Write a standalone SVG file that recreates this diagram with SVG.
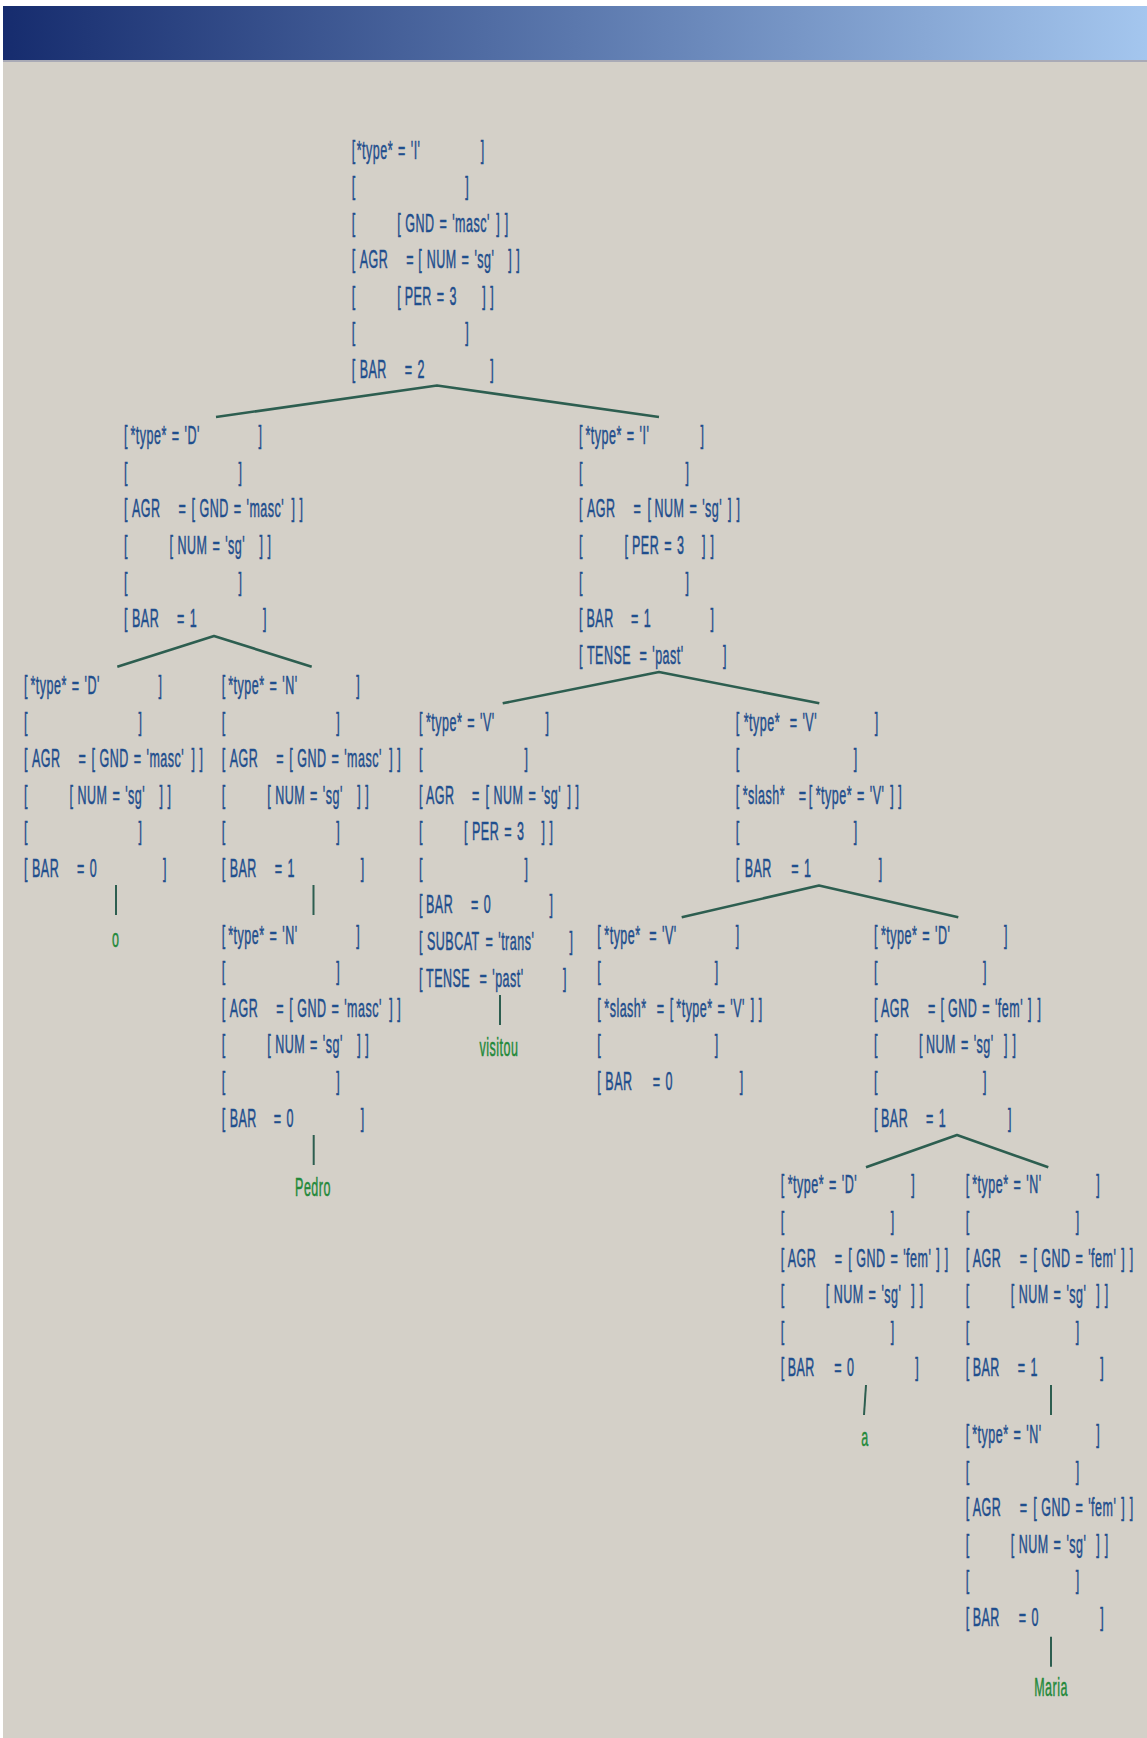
<svg xmlns="http://www.w3.org/2000/svg" width="1147" height="1738" viewBox="0 0 1147 1738">
  <style>
    .node text { font-family: "Liberation Sans", Arial, sans-serif; font-size: 25px; fill: #1f4e8d; stroke: #1f4e8d; stroke-width: 0.5px; letter-spacing: 1px; word-spacing: 2px; }
    .leaf text { font-family: "Liberation Sans", Arial, sans-serif; font-size: 25px; fill: #23893a; stroke: #23893a; stroke-width: 0.5px; letter-spacing: 1px; text-anchor: middle; }
    .edge { fill: none; stroke: #2d5e50; stroke-width: 2.6; stroke-linejoin: round; }
    .stem { fill: none; stroke: #2d5e50; stroke-width: 2; }
  </style>
  <defs>
    <linearGradient id="band" x1="0" y1="0" x2="1" y2="0">
      <stop offset="0" stop-color="#162c6e"/>
      <stop offset="0.5" stop-color="#5b78ad"/>
      <stop offset="1" stop-color="#a4c6ee"/>
    </linearGradient>
  </defs>

  <!-- page -->
  <rect x="0" y="0" width="1147" height="1738" fill="#ffffff"/>
  <rect x="3" y="6" width="1144" height="1732" fill="#d4d0c8"/>
  <rect x="3" y="6" width="1144" height="54" fill="url(#band)"/>
  <rect x="3" y="60" width="1144" height="2" fill="#a9aab6"/>

  <!-- tree edges -->
  <g id="connectors">
    <path class="edge" d="M216 417 L437 385.5 L659 417"/>
    <path class="edge" d="M117.3 666.7 L214 636 L311.7 666.7"/>
    <path class="edge" d="M502.7 703.3 L659 672 L819.3 703.3"/>
    <path class="edge" d="M681.7 917.3 L819 885.5 L958.3 917.3"/>
    <path class="edge" d="M866 1167.3 L957 1135 L1048.3 1167.3"/>
    <path class="stem" d="M116 885 V915"/>
    <path class="stem" d="M313.5 885 V915"/>
    <path class="stem" d="M313.7 1135 V1165"/>
    <path class="stem" d="M500 995 V1025"/>
    <path class="stem" d="M866 1385 L864 1415"/>
    <path class="stem" d="M1051 1385 V1415"/>
    <path class="stem" d="M1051 1636.7 V1666.7"/>
  </g>

  <!-- I, BAR 2 -->
  <g id="node-root" class="node" transform="translate(351.7 158.5) scale(0.5 1)">
    <text y="0"><tspan x="0">[</tspan><tspan x="10">*type* = 'I'</tspan><tspan x="258">]</tspan></text>
    <text y="36.6"><tspan x="0">[</tspan><tspan x="227">]</tspan></text>
    <text y="73.2"><tspan x="0">[</tspan><tspan x="91">[</tspan><tspan x="107">GND = 'masc'</tspan><tspan x="289">]</tspan><tspan x="306">]</tspan></text>
    <text y="109.8"><tspan x="0">[</tspan><tspan x="16">AGR</tspan><tspan x="109">=</tspan><tspan x="133">[</tspan><tspan x="150">NUM = 'sg'</tspan><tspan x="313">]</tspan><tspan x="329">]</tspan></text>
    <text y="146.4"><tspan x="0">[</tspan><tspan x="91">[</tspan><tspan x="106">PER = 3</tspan><tspan x="261">]</tspan><tspan x="277">]</tspan></text>
    <text y="183"><tspan x="0">[</tspan><tspan x="227">]</tspan></text>
    <text y="219.6"><tspan x="0">[</tspan><tspan x="16">BAR</tspan><tspan x="106">= 2</tspan><tspan x="277">]</tspan></text>
  </g>

  <!-- D, BAR 1 -->
  <g id="node-d1" class="node" transform="translate(124 444.2) scale(0.5 1)">
    <text y="0"><tspan x="0">[</tspan><tspan x="13">*type* = 'D'</tspan><tspan x="269">]</tspan></text>
    <text y="36.6"><tspan x="0">[</tspan><tspan x="229">]</tspan></text>
    <text y="73.2"><tspan x="0">[</tspan><tspan x="16">AGR</tspan><tspan x="109">=</tspan><tspan x="135">[</tspan><tspan x="151">GND = 'masc'</tspan><tspan x="335">]</tspan><tspan x="351">]</tspan></text>
    <text y="109.8"><tspan x="0">[</tspan><tspan x="91">[</tspan><tspan x="107">NUM = 'sg'</tspan><tspan x="271">]</tspan><tspan x="287">]</tspan></text>
    <text y="146.4"><tspan x="0">[</tspan><tspan x="229">]</tspan></text>
    <text y="183"><tspan x="0">[</tspan><tspan x="16">BAR</tspan><tspan x="106">= 1</tspan><tspan x="278">]</tspan></text>
  </g>

  <!-- I, BAR 1 -->
  <g id="node-i1" class="node" transform="translate(579 444.2) scale(0.5 1)">
    <text y="0"><tspan x="0">[</tspan><tspan x="13">*type* = 'I'</tspan><tspan x="243">]</tspan></text>
    <text y="36.6"><tspan x="0">[</tspan><tspan x="213">]</tspan></text>
    <text y="73.2"><tspan x="0">[</tspan><tspan x="16">AGR</tspan><tspan x="109">=</tspan><tspan x="137">[</tspan><tspan x="151">NUM = 'sg'</tspan><tspan x="298">]</tspan><tspan x="315">]</tspan></text>
    <text y="109.8"><tspan x="0">[</tspan><tspan x="91">[</tspan><tspan x="106">PER = 3</tspan><tspan x="246">]</tspan><tspan x="263">]</tspan></text>
    <text y="146.4"><tspan x="0">[</tspan><tspan x="213">]</tspan></text>
    <text y="183"><tspan x="0">[</tspan><tspan x="15">BAR</tspan><tspan x="104">= 1</tspan><tspan x="263">]</tspan></text>
    <text y="219.6"><tspan x="0">[</tspan><tspan x="16">TENSE</tspan><tspan x="121">= 'past'</tspan><tspan x="288">]</tspan></text>
  </g>

  <!-- D, BAR 0 (o) -->
  <g id="node-d0-o" class="node" transform="translate(24 694) scale(0.5 1)">
    <text y="0"><tspan x="0">[</tspan><tspan x="13">*type* = 'D'</tspan><tspan x="269">]</tspan></text>
    <text y="36.6"><tspan x="0">[</tspan><tspan x="229">]</tspan></text>
    <text y="73.2"><tspan x="0">[</tspan><tspan x="16">AGR</tspan><tspan x="109">=</tspan><tspan x="135">[</tspan><tspan x="151">GND = 'masc'</tspan><tspan x="335">]</tspan><tspan x="351">]</tspan></text>
    <text y="109.8"><tspan x="0">[</tspan><tspan x="91">[</tspan><tspan x="107">NUM = 'sg'</tspan><tspan x="271">]</tspan><tspan x="287">]</tspan></text>
    <text y="146.4"><tspan x="0">[</tspan><tspan x="229">]</tspan></text>
    <text y="183"><tspan x="0">[</tspan><tspan x="16">BAR</tspan><tspan x="106">= 0</tspan><tspan x="278">]</tspan></text>
  </g>

  <!-- N, BAR 1 -->
  <g id="node-n1" class="node" transform="translate(221.7 694) scale(0.5 1)">
    <text y="0"><tspan x="0">[</tspan><tspan x="13">*type* = 'N'</tspan><tspan x="269">]</tspan></text>
    <text y="36.6"><tspan x="0">[</tspan><tspan x="229">]</tspan></text>
    <text y="73.2"><tspan x="0">[</tspan><tspan x="16">AGR</tspan><tspan x="109">=</tspan><tspan x="135">[</tspan><tspan x="151">GND = 'masc'</tspan><tspan x="335">]</tspan><tspan x="351">]</tspan></text>
    <text y="109.8"><tspan x="0">[</tspan><tspan x="91">[</tspan><tspan x="107">NUM = 'sg'</tspan><tspan x="271">]</tspan><tspan x="287">]</tspan></text>
    <text y="146.4"><tspan x="0">[</tspan><tspan x="229">]</tspan></text>
    <text y="183"><tspan x="0">[</tspan><tspan x="16">BAR</tspan><tspan x="106">= 1</tspan><tspan x="278">]</tspan></text>
  </g>

  <!-- V, BAR 0 (visitou) -->
  <g id="node-v0" class="node" transform="translate(419 730.5) scale(0.5 1)">
    <text y="0"><tspan x="0">[</tspan><tspan x="14">*type* = 'V'</tspan><tspan x="253">]</tspan></text>
    <text y="36.6"><tspan x="0">[</tspan><tspan x="211">]</tspan></text>
    <text y="73.2"><tspan x="0">[</tspan><tspan x="14">AGR</tspan><tspan x="106">=</tspan><tspan x="133">[</tspan><tspan x="149">NUM = 'sg'</tspan><tspan x="297">]</tspan><tspan x="313">]</tspan></text>
    <text y="109.8"><tspan x="0">[</tspan><tspan x="90">[</tspan><tspan x="106">PER = 3</tspan><tspan x="245">]</tspan><tspan x="261">]</tspan></text>
    <text y="146.4"><tspan x="0">[</tspan><tspan x="211">]</tspan></text>
    <text y="183"><tspan x="0">[</tspan><tspan x="14">BAR</tspan><tspan x="104">= 0</tspan><tspan x="261">]</tspan></text>
    <text y="219.6"><tspan x="0">[</tspan><tspan x="16">SUBCAT</tspan><tspan x="133">= 'trans'</tspan><tspan x="301">]</tspan></text>
    <text y="256.2"><tspan x="0">[</tspan><tspan x="14">TENSE</tspan><tspan x="121">= 'past'</tspan><tspan x="288">]</tspan></text>
  </g>

  <!-- V, BAR 1 with slash -->
  <g id="node-v1-slash" class="node" transform="translate(735.7 730.5) scale(0.5 1)">
    <text y="0"><tspan x="0">[</tspan><tspan x="16">*type*</tspan><tspan x="108">= 'V'</tspan><tspan x="278">]</tspan></text>
    <text y="36.6"><tspan x="0">[</tspan><tspan x="236">]</tspan></text>
    <text y="73.2"><tspan x="0">[</tspan><tspan x="14">*slash*</tspan><tspan x="126">=</tspan><tspan x="146">[</tspan><tspan x="160">*type* = 'V'</tspan><tspan x="309">]</tspan><tspan x="325">]</tspan></text>
    <text y="109.8"><tspan x="0">[</tspan><tspan x="236">]</tspan></text>
    <text y="146.4"><tspan x="0">[</tspan><tspan x="18">BAR</tspan><tspan x="111">= 1</tspan><tspan x="286">]</tspan></text>
  </g>

  <!-- N, BAR 0 (Pedro) -->
  <g id="node-n0-pedro" class="node" transform="translate(221.7 943.7) scale(0.5 1)">
    <text y="0"><tspan x="0">[</tspan><tspan x="13">*type* = 'N'</tspan><tspan x="269">]</tspan></text>
    <text y="36.6"><tspan x="0">[</tspan><tspan x="229">]</tspan></text>
    <text y="73.2"><tspan x="0">[</tspan><tspan x="16">AGR</tspan><tspan x="109">=</tspan><tspan x="135">[</tspan><tspan x="151">GND = 'masc'</tspan><tspan x="335">]</tspan><tspan x="351">]</tspan></text>
    <text y="109.8"><tspan x="0">[</tspan><tspan x="91">[</tspan><tspan x="107">NUM = 'sg'</tspan><tspan x="271">]</tspan><tspan x="287">]</tspan></text>
    <text y="146.4"><tspan x="0">[</tspan><tspan x="229">]</tspan></text>
    <text y="183"><tspan x="0">[</tspan><tspan x="16">BAR</tspan><tspan x="104">= 0</tspan><tspan x="278">]</tspan></text>
  </g>

  <!-- V, BAR 0 with slash -->
  <g id="node-v0-slash" class="node" transform="translate(597.3 943.7) scale(0.5 1)">
    <text y="0"><tspan x="0">[</tspan><tspan x="14">*type*</tspan><tspan x="104">= 'V'</tspan><tspan x="277">]</tspan></text>
    <text y="36.6"><tspan x="0">[</tspan><tspan x="235">]</tspan></text>
    <text y="73.2"><tspan x="0">[</tspan><tspan x="14">*slash*</tspan><tspan x="119">=</tspan><tspan x="145">[</tspan><tspan x="158">*type* = 'V'</tspan><tspan x="307">]</tspan><tspan x="323">]</tspan></text>
    <text y="109.8"><tspan x="0">[</tspan><tspan x="235">]</tspan></text>
    <text y="146.4"><tspan x="0">[</tspan><tspan x="16">BAR</tspan><tspan x="111">= 0</tspan><tspan x="285">]</tspan></text>
  </g>

  <!-- D, BAR 1 (fem) -->
  <g id="node-d1-fem" class="node" transform="translate(874 943.7) scale(0.5 1)">
    <text y="0"><tspan x="0">[</tspan><tspan x="14">*type* = 'D'</tspan><tspan x="260">]</tspan></text>
    <text y="36.6"><tspan x="0">[</tspan><tspan x="218">]</tspan></text>
    <text y="73.2"><tspan x="0">[</tspan><tspan x="14">AGR</tspan><tspan x="108">=</tspan><tspan x="133">[</tspan><tspan x="148">GND = 'fem'</tspan><tspan x="308">]</tspan><tspan x="327">]</tspan></text>
    <text y="109.8"><tspan x="0">[</tspan><tspan x="90">[</tspan><tspan x="104">NUM = 'sg'</tspan><tspan x="260">]</tspan><tspan x="277">]</tspan></text>
    <text y="146.4"><tspan x="0">[</tspan><tspan x="218">]</tspan></text>
    <text y="183"><tspan x="0">[</tspan><tspan x="14">BAR</tspan><tspan x="104">= 1</tspan><tspan x="268">]</tspan></text>
  </g>

  <!-- D, BAR 0 (a) -->
  <g id="node-d0-a" class="node" transform="translate(780.7 1193.4) scale(0.5 1)">
    <text y="0"><tspan x="0">[</tspan><tspan x="14">*type* = 'D'</tspan><tspan x="261">]</tspan></text>
    <text y="36.6"><tspan x="0">[</tspan><tspan x="220">]</tspan></text>
    <text y="73.2"><tspan x="0">[</tspan><tspan x="14">AGR</tspan><tspan x="108">=</tspan><tspan x="135">[</tspan><tspan x="151">GND = 'fem'</tspan><tspan x="311">]</tspan><tspan x="328">]</tspan></text>
    <text y="109.8"><tspan x="0">[</tspan><tspan x="90">[</tspan><tspan x="106">NUM = 'sg'</tspan><tspan x="261">]</tspan><tspan x="278">]</tspan></text>
    <text y="146.4"><tspan x="0">[</tspan><tspan x="220">]</tspan></text>
    <text y="183"><tspan x="0">[</tspan><tspan x="14">BAR</tspan><tspan x="107">= 0</tspan><tspan x="269">]</tspan></text>
  </g>

  <!-- N, BAR 1 (fem) -->
  <g id="node-n1-fem" class="node" transform="translate(965.7 1193.4) scale(0.5 1)">
    <text y="0"><tspan x="0">[</tspan><tspan x="13">*type* = 'N'</tspan><tspan x="261">]</tspan></text>
    <text y="36.6"><tspan x="0">[</tspan><tspan x="220">]</tspan></text>
    <text y="73.2"><tspan x="0">[</tspan><tspan x="14">AGR</tspan><tspan x="108">=</tspan><tspan x="135">[</tspan><tspan x="151">GND = 'fem'</tspan><tspan x="311">]</tspan><tspan x="328">]</tspan></text>
    <text y="109.8"><tspan x="0">[</tspan><tspan x="90">[</tspan><tspan x="106">NUM = 'sg'</tspan><tspan x="261">]</tspan><tspan x="278">]</tspan></text>
    <text y="146.4"><tspan x="0">[</tspan><tspan x="220">]</tspan></text>
    <text y="183"><tspan x="0">[</tspan><tspan x="14">BAR</tspan><tspan x="104">= 1</tspan><tspan x="269">]</tspan></text>
  </g>

  <!-- N, BAR 0 (Maria) -->
  <g id="node-n0-maria" class="node" transform="translate(965.7 1443.1) scale(0.5 1)">
    <text y="0"><tspan x="0">[</tspan><tspan x="13">*type* = 'N'</tspan><tspan x="261">]</tspan></text>
    <text y="36.6"><tspan x="0">[</tspan><tspan x="220">]</tspan></text>
    <text y="73.2"><tspan x="0">[</tspan><tspan x="14">AGR</tspan><tspan x="108">=</tspan><tspan x="135">[</tspan><tspan x="151">GND = 'fem'</tspan><tspan x="311">]</tspan><tspan x="328">]</tspan></text>
    <text y="109.8"><tspan x="0">[</tspan><tspan x="90">[</tspan><tspan x="106">NUM = 'sg'</tspan><tspan x="261">]</tspan><tspan x="278">]</tspan></text>
    <text y="146.4"><tspan x="0">[</tspan><tspan x="220">]</tspan></text>
    <text y="183"><tspan x="0">[</tspan><tspan x="14">BAR</tspan><tspan x="106">= 0</tspan><tspan x="269">]</tspan></text>
  </g>

  <!-- words -->
  <g id="leaf-o" class="leaf" transform="translate(115.7 946.7) scale(0.5 1)"><text x="0" y="0">o</text></g>
  <g id="leaf-pedro" class="leaf" transform="translate(313 1196.4) scale(0.5 1)"><text x="0" y="0">Pedro</text></g>
  <g id="leaf-visitou" class="leaf" transform="translate(499 1056.4) scale(0.5 1)"><text x="0" y="0">visitou</text></g>
  <g id="leaf-a" class="leaf" transform="translate(865 1446) scale(0.5 1)"><text x="0" y="0">a</text></g>
  <g id="leaf-maria" class="leaf" transform="translate(1051 1695.8) scale(0.5 1)"><text x="0" y="0">Maria</text></g>
</svg>
